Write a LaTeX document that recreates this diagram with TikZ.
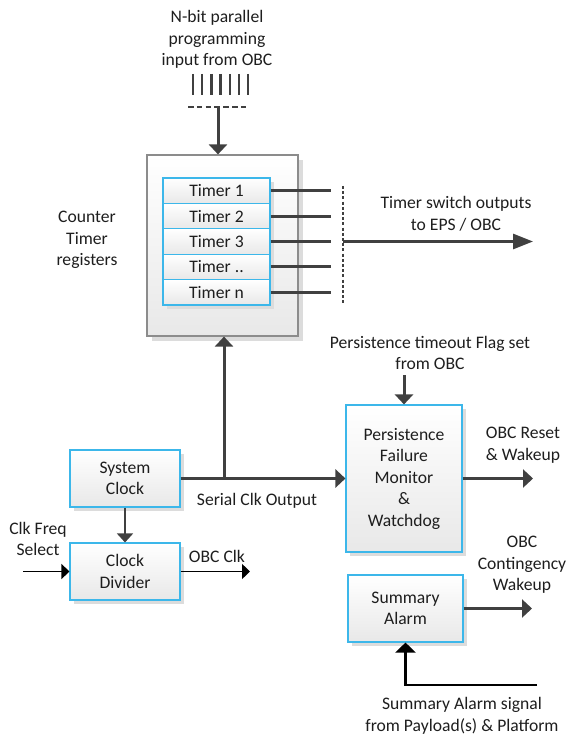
\documentclass[tikz,border=0pt]{standalone}
\usepackage{fontspec}
\setmainfont{Carlito}
\usetikzlibrary{arrows.meta,shadows}
\definecolor{lineg}{HTML}{404040}
\definecolor{boxcyan}{HTML}{3CB7EA}
\definecolor{framegray}{HTML}{8C8C8C}
\definecolor{shadowg}{HTML}{DCDCDC}
\definecolor{txt}{HTML}{1E1E1E}
\begin{document}
\begin{tikzpicture}[x=1pt,y=-1pt,
  every node/.style={font=\fontsize{17.6}{21.5}\selectfont, text=txt, align=center, inner sep=0pt},
  blk/.style={draw=boxcyan, line width=1.1pt, top color=white, bottom color=black!9,
    general shadow={fill=shadowg, shadow xshift=4pt, shadow yshift=-4pt}},
  frame/.style={draw=framegray, line width=1.2pt, top color=white, bottom color=black!9,
    general shadow={fill=shadowg, shadow xshift=5pt, shadow yshift=-5pt}},
  rowbox/.style={blk, minimum width=107pt, minimum height=25.4pt},
  bus/.style={draw=lineg, line width=3pt},
  bigarrow/.style={bus, -{Triangle[length=10pt,width=18pt]}},
  longarrow/.style={bus, -{Triangle[length=20pt,width=15pt]}},
  thinarrow/.style={draw=black, line width=1.3pt, -{Triangle[length=8pt,width=15pt]}},
  alarmarrow/.style={draw=black, line width=2.6pt, -{Triangle[length=10pt,width=20pt]}},
]
\useasboundingbox (0,0) rectangle (570,735);

% parallel programming input
\node (inlbl) at (217,39.5) {N-bit parallel\\programming\\input from OBC};
\foreach \i in {0,...,6}
  \draw[lineg, line width=2.4pt] (193+9.2*\i,74) -- (193+9.2*\i,95);
\coordinate (busl) at (188,107);
\coordinate (busr) at (249,107);
\coordinate (busin) at (218,107);
\draw[lineg, line width=2.4pt, dash pattern=on 5.5pt off 3.3pt] (busl) -- (busr);

% counter / timer register block
\node[frame, minimum width=151pt, minimum height=181pt] (ctr) at (222.5,245.5) {};
\node[rowbox] (t1) at (216.5,190.7) {Timer 1};
\node[rowbox] (t2) at (216.5,216.1) {Timer 2};
\node[rowbox] (t3) at (216.5,241.5) {Timer 3};
\node[rowbox] (t4) at (216.5,266.9) {Timer ..};
\node[rowbox] (t5) at (216.5,292.3) {Timer n};
\node (ctrlbl) at (87,240) {Counter\\Timer\\registers};
\draw[bigarrow] (busin) -- (busin |- ctr.north);

% timer switch outputs
\coordinate (tend) at (331,0);
\foreach \t in {t1,t2,t3,t4,t5}
  \draw[bus] (\t.east) -- (\t.east -| tend);
\coordinate (dtop) at (343,186);
\coordinate (dbot) at (343,305);
\draw[lineg, line width=2.2pt, dash pattern=on 3pt off 2.2pt] (dtop) -- (dbot);
\coordinate (outend) at (533,241.5);
\draw[longarrow] (t3.east -| dtop) -- (outend);
\node (outlbl) at (456,214) {Timer switch outputs\\to EPS / OBC};

% clocks
\node[blk, minimum width=110pt, minimum height=57pt] (sys) at (125,478.5) {System\\Clock};
\node[blk, minimum width=110pt, minimum height=57pt] (div) at (125,571.5) {Clock\\Divider};
\draw[lineg, line width=1.6pt, -{Triangle[length=9pt,width=16pt]}] (sys.south) -- (div.north);
\coordinate (cfin) at (23,571.5);
\draw[thinarrow] (cfin) -- (div.west);
\node (cflbl) at (38,539) {Clk Freq\\Select};
\coordinate (obcclk) at (250,571.5);
\draw[thinarrow] (div.east) -- (obcclk);
\node (obcclklbl) at (217,556) {OBC Clk};

% persistence failure monitor
\node[blk, minimum width=116pt, minimum height=147pt] (pfm) at (404,478.5)
  {Persistence\\Failure\\Monitor\\\&\\Watchdog};
\draw[bigarrow] (sys.east) -- (pfm.west);
\coordinate (tap) at (224,0);
\draw[bigarrow] (tap |- sys.east) -- (tap |- ctr.south);
\node (seriallbl) at (257,501) {Serial Clk Output};
\node (pinlbl) at (430,353) {Persistence timeout Flag set\\from OBC};
\coordinate (pin) at (404,375);
\draw[bigarrow] (pin) -- (pfm.north);
\coordinate (rst) at (533,478.5);
\draw[bigarrow] (pfm.east) -- (rst);
\node (rstlbl) at (523,445) {OBC Reset\\\& Wakeup};

% summary alarm
\node[blk, minimum width=115pt, minimum height=67pt] (sa) at (405.5,608.5) {Summary\\Alarm};
\coordinate (cw) at (532,608.5);
\draw[bigarrow] (sa.east) -- (cw);
\node (cwlbl) at (522,565) {OBC\\Contingency\\Wakeup};
\coordinate (sain) at (537,685);
\draw[alarmarrow] (sain) -| (sa.south);
\node (salbl) at (462,716) {Summary Alarm signal\\from Payload(s) \& Platform};
\end{tikzpicture}
\end{document}
